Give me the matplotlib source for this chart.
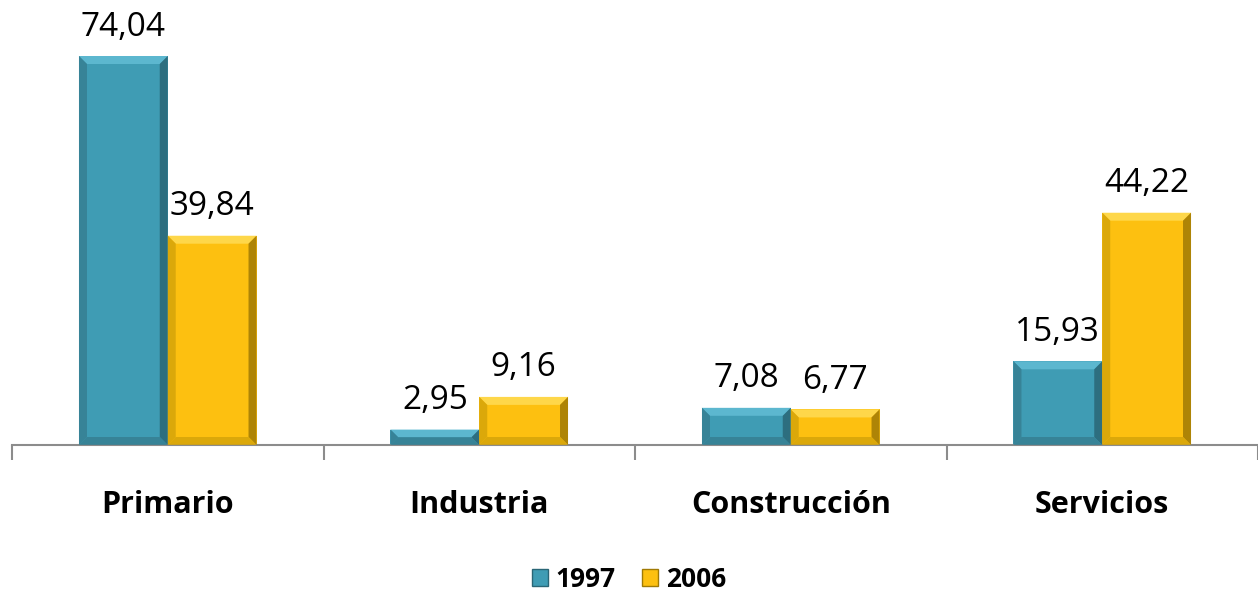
import matplotlib
matplotlib.use("Agg")
import matplotlib.pyplot as plt
import numpy as np
from matplotlib.patches import Patch, Polygon

sectores = ['Primario', 'Industria', 'Construcción', 'Servicios']
series = ['1997', '2006']
v1997 = [74.04, 2.95, 7.08, 15.93]
v2006 = [39.84, 9.16, 6.77, 44.22]

colors = ['#3F9CB4', '#FDC010']
light = ['#62BCD4', '#FFDC55']
dark = ['#2A6676', '#A07A05']
mid = ['#367F92', '#D6A40A']

fig = plt.figure(figsize=(12.58, 5.94), dpi=100)
ax = fig.add_axes([12 / 1258, 149 / 594, 1246 / 1258, 445 / 594])

x = np.arange(len(sectores))
w = 0.285


def bevel(ax, rect, ci, b=8):
    # bevel drawn in pixel size, converted back to data units
    x0, y0 = rect.get_x(), rect.get_y()
    x1, y1 = x0 + rect.get_width(), y0 + rect.get_height()
    t = ax.transData
    p0 = t.transform((x0, y0))
    p1 = t.transform((x1, y1))
    bb = min(b, (p1[1] - p0[1]) / 2, (p1[0] - p0[0]) / 2)
    inv = t.inverted()
    q0 = inv.transform((p0[0] + bb, p0[1] + bb))
    q1 = inv.transform((p1[0] - bb, p1[1] - bb))
    polys = [
        ([(x0, y1), (x1, y1), (q1[0], q1[1]), (q0[0], q1[1])], light[ci]),
        ([(x1, y1), (x1, y0), (q1[0], q0[1]), (q1[0], q1[1])], dark[ci]),
        ([(x0, y0), (x1, y0), (q1[0], q0[1]), (q0[0], q0[1])], mid[ci]),
        ([(x0, y0), (x0, y1), (q0[0], q1[1]), (q0[0], q0[1])], mid[ci]),
    ]
    for pts, c in polys:
        ax.add_patch(Polygon(pts, closed=True, facecolor=c, edgecolor='none',
                             alpha=0.85, zorder=3))


ax.set_xlim(-0.5, len(sectores) - 0.5)
ax.set_ylim(0, 84.7)

bars1 = ax.bar(x - w / 2, v1997, w, color=colors[0], zorder=2, linewidth=0)
bars2 = ax.bar(x + w / 2, v2006, w, color=colors[1], zorder=2, linewidth=0)

for ci, bars in enumerate([bars1, bars2]):
    for r in bars:
        bevel(ax, r, ci)
        h = r.get_height()
        ax.annotate('{:.2f}'.format(h).replace('.', ','),
                    xy=(r.get_x() + r.get_width() / 2, h),
                    xytext=(0, 9), textcoords='offset points',
                    ha='center', va='bottom', fontsize=24, family='Open Sans')

for s in ['top', 'right', 'left']:
    ax.spines[s].set_visible(False)
ax.spines['bottom'].set_color('#8C8C8C')
ax.spines['bottom'].set_linewidth(1.5)
ax.set_yticks([])

ax.set_xticks(np.arange(len(sectores) + 1) - 0.5)
ax.set_xticklabels([])
ax.tick_params(axis='x', length=11, width=1.5, color='#8C8C8C', direction='out')
for i, s in enumerate(sectores):
    ax.text(i, -11.5, s, ha='center', va='center', fontsize=22,
            fontweight='bold', family='Open Sans')

handles = [Patch(facecolor=colors[0], edgecolor=dark[0]),
           Patch(facecolor=colors[1], edgecolor=dark[1])]
fig.legend(handles, series, ncol=2, loc='center', bbox_to_anchor=(0.5, 0.025),
           frameon=False, handlelength=0.6, handleheight=0.6, handletextpad=0.3,
           columnspacing=1.0, prop={'size': 19, 'weight': 'bold', 'family': 'Open Sans'})

fig.savefig('out.png', dpi=100)
